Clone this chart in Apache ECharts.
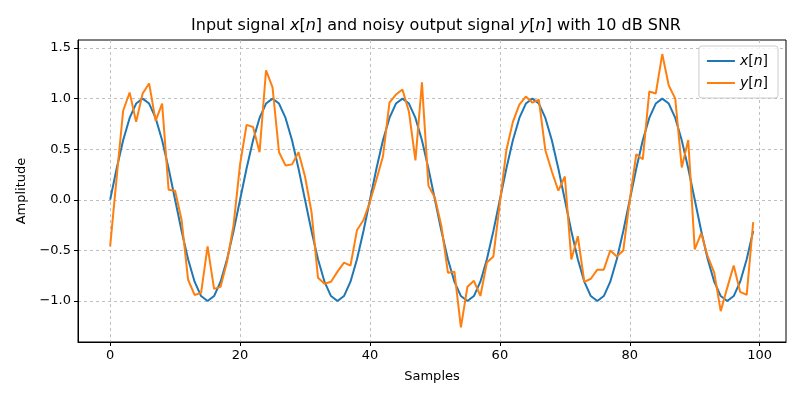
<!DOCTYPE html>
<html>
<head>
<meta charset="utf-8">
<script src="https://cdn.jsdelivr.net/npm/echarts@6/dist/echarts.min.js"></script>
<style>html,body{margin:0;padding:0;background:#fff}#c{width:800px;height:400px}</style>
</head>
<body>
<div id="c"></div>
<script>
const xSignal = [
  0, 0.309, 0.588, 0.809, 0.951, 1, 0.951, 0.809, 0.588, 0.309, 0, -0.309, -0.588, -0.809, -0.951, -1, -0.951, -0.809, -0.588, -0.309,
  0, 0.309, 0.588, 0.809, 0.951, 1, 0.951, 0.809, 0.588, 0.309, 0, -0.309, -0.588, -0.809, -0.951, -1, -0.951, -0.809, -0.588, -0.309,
  0, 0.309, 0.588, 0.809, 0.951, 1, 0.951, 0.809, 0.588, 0.309, 0, -0.309, -0.588, -0.809, -0.951, -1, -0.951, -0.809, -0.588, -0.309,
  0, 0.309, 0.588, 0.809, 0.951, 1, 0.951, 0.809, 0.588, 0.309, 0, -0.309, -0.588, -0.809, -0.951, -1, -0.951, -0.809, -0.588, -0.309,
  0, 0.309, 0.588, 0.809, 0.951, 1, 0.951, 0.809, 0.588, 0.309, 0, -0.309, -0.588, -0.809, -0.951, -1, -0.951, -0.809, -0.588, -0.309
];
const ySignal = [
  -0.46, 0.22, 0.88, 1.06, 0.77, 1.05, 1.15, 0.78, 0.95, 0.10,
  0.09, -0.20, -0.79, -0.94, -0.92, -0.46, -0.88, -0.86, -0.61, -0.25,
  0.35, 0.74, 0.72, 0.47, 1.28, 1.11, 0.47, 0.34, 0.35, 0.47,
  0.23, -0.12, -0.77, -0.83, -0.81, -0.71, -0.62, -0.65, -0.30, -0.20,
  -0.02, 0.20, 0.43, 0.96, 1.04, 1.09, 0.87, 0.39, 1.16, 0.14,
  0.02, -0.26, -0.72, -0.71, -1.26, -0.86, -0.80, -0.95, -0.62, -0.56,
  -0.03, 0.49, 0.77, 0.94, 1.02, 0.96, 0.99, 0.49, 0.28, 0.09,
  0.23, -0.59, -0.36, -0.81, -0.78, -0.69, -0.69, -0.50, -0.56, -0.50,
  0.00, 0.45, 0.40, 1.07, 1.05, 1.44, 1.13, 1.00, 0.32, 0.59,
  -0.49, -0.33, -0.56, -0.72, -1.10, -0.87, -0.65, -0.91, -0.94, -0.22
];
const xTicks = [0, 20, 40, 60, 80, 100];
const yTicks = [-1.0, -0.5, 0.0, 0.5, 1.0, 1.5];

const FONT = 'DejaVu Sans';
const chart = echarts.init(document.getElementById('c'), null, {renderer: 'canvas'});
const gridLine = {show: true, lineStyle: {color: '#b0b0b0', type: [3, 3], width: 0.8}};
const fmtY = v => v.toFixed(1).replace('-', '\u2212');

chart.setOption({
  animation: false,
  backgroundColor: '#fff',
  title: {
    text: 'Input signal {i|x}[{i|n}] and noisy output signal {i|y}[{i|n}] with 10 dB SNR',
    left: 431, top: 13, textAlign: 'center',
    textStyle: {
      fontFamily: FONT, fontSize: 16, fontWeight: 'normal', color: '#000',
      rich: {i: {fontFamily: FONT, fontSize: 16, fontStyle: 'italic', color: '#000'}}
    }
  },
  grid: {left: 78, right: 14, top: 40, bottom: 58, show: true, borderColor: '#000', borderWidth: 1, backgroundColor: 'transparent'},
  legend: {
    right: 22, top: 46, orient: 'vertical', itemWidth: 28, itemHeight: 2, itemGap: 8,
    padding: [8, 10, 8, 8],
    backgroundColor: 'rgba(255,255,255,0.8)', borderColor: '#ccc', borderWidth: 1, borderRadius: 3,
    icon: 'rect',
    formatter: name => name === 'x' ? '{i|x}[{i|n}]' : '{i|y}[{i|n}]',
    textStyle: {fontFamily: FONT, fontSize: 14, color: '#000',
      rich: {i: {fontFamily: FONT, fontSize: 14, fontStyle: 'italic', color: '#000'}}},
    data: ['x', 'y']
  },
  xAxis: {
    type: 'value', min: -4.95, max: 104.05,
    name: 'Samples', nameLocation: 'middle', nameGap: 28,
    nameTextStyle: {fontFamily: FONT, fontSize: 13, color: '#000'},
    axisLine: {show: true, onZero: false, lineStyle: {color: '#000', width: 1}},
    axisTick: {show: true, inside: false, length: 4, customValues: xTicks, lineStyle: {color: '#000'}},
    axisLabel: {customValues: xTicks, fontFamily: FONT, fontSize: 13, color: '#000', margin: 7, showMinLabel: true, showMaxLabel: true},
    splitLine: gridLine
  },
  yAxis: {
    type: 'value', min: -1.405, max: 1.579,
    name: 'Amplitude', nameLocation: 'middle', nameGap: 50, nameRotate: 90,
    nameTextStyle: {fontFamily: FONT, fontSize: 13, color: '#000'},
    axisLine: {show: true, onZero: false, lineStyle: {color: '#000', width: 1}},
    axisTick: {show: true, inside: false, length: 4, customValues: yTicks, lineStyle: {color: '#000'}},
    axisLabel: {customValues: yTicks, formatter: fmtY, fontFamily: FONT, fontSize: 13, color: '#000', margin: 7},
    splitLine: gridLine
  },
  series: [
    {name: 'x', type: 'line', data: xSignal.map((v, i) => [i, v]), showSymbol: false, symbol: 'none',
     lineStyle: {color: '#1f77b4', width: 2}, itemStyle: {color: '#1f77b4'}, z: 2},
    {name: 'y', type: 'line', data: ySignal.map((v, i) => [i, v]), showSymbol: false, symbol: 'none',
     lineStyle: {color: '#ff7f0e', width: 2}, itemStyle: {color: '#ff7f0e'}, z: 3}
  ]
});
</script>
</body>
</html>
